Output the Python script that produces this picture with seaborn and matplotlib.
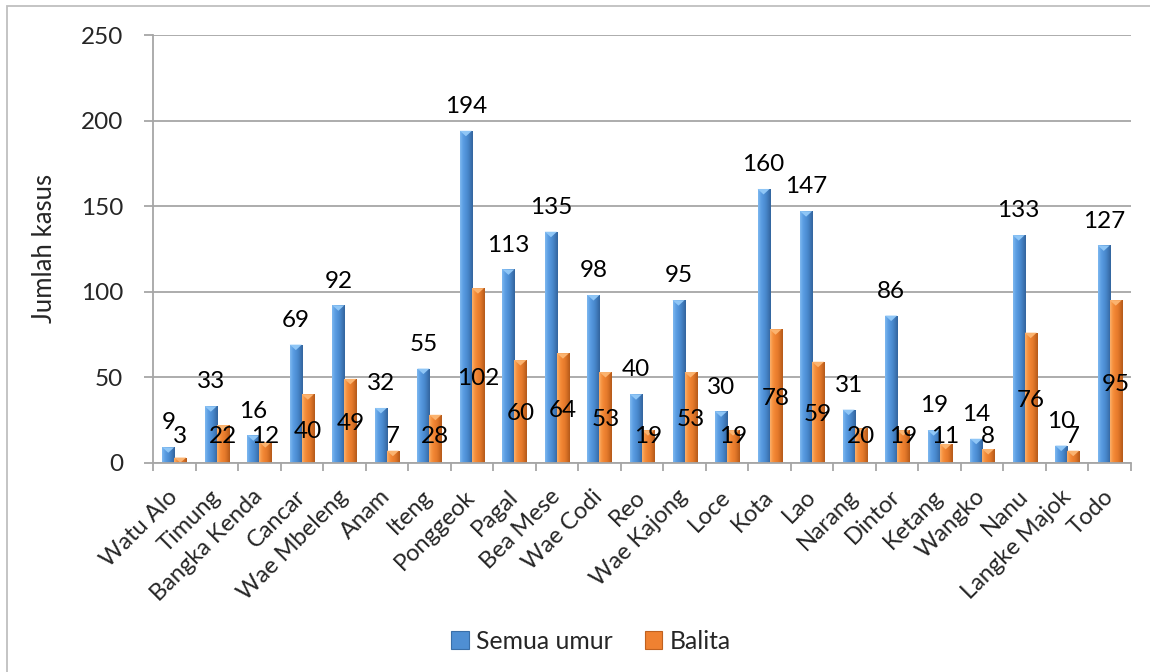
import numpy as np
import pandas as pd
import matplotlib
matplotlib.use("Agg")
import matplotlib.pyplot as plt
import seaborn as sns
from matplotlib.patches import Polygon, Rectangle, Patch
from matplotlib.colors import LinearSegmentedColormap

# Cases per village, all ages vs. under-fives
villages = ["Watu Alo", "Timung", "Bangka Kenda", "Cancar", "Wae Mbeleng", "Anam",
            "Iteng", "Ponggeok", "Pagal", "Bea Mese", "Wae Codi", "Reo",
            "Wae Kajong", "Loce", "Kota", "Lao", "Narang", "Dintor", "Ketang",
            "Wangko", "Nanu", "Langke Majok", "Todo"]
semua_umur = [9, 33, 16, 69, 92, 32, 55, 194, 113, 135, 98, 40, 95, 30, 160, 147,
              31, 86, 19, 14, 133, 10, 127]
balita = [3, 22, 12, 40, 49, 7, 28, 102, 60, 64, 53, 19, 53, 19, 78, 59, 20, 19,
          11, 8, 76, 7, 95]
series_names = ["Semua umur", "Balita"]
y_ticks = [0, 50, 100, 150, 200, 250]
y_label = "Jumlah kasus"

df = pd.DataFrame({
    "Desa": villages * 2,
    "Seri": [series_names[0]] * len(villages) + [series_names[1]] * len(villages),
    "Kasus": semua_umur + balita,
})

sns.set_theme(style="white")
plt.rcParams["font.family"] = ["Lato", "DejaVu Sans"]

W, H = 1150, 672
fig = plt.figure(figsize=(W / 100, H / 100), dpi=100)
fig.patch.set_facecolor("white")
ax = fig.add_axes([153 / W, 1 - 462.7 / H, (1131 - 153) / W, (462.7 - 35) / H])

main_colors = {"Semua umur": "#4f8fd3", "Balita": "#ef8131"}
sns.barplot(data=df, x="Desa", y="Kasus", hue="Seri", order=villages,
            hue_order=series_names, palette=main_colors, width=0.565, gap=0,
            saturation=1, errorbar=None, legend=False, ax=ax, linewidth=0)

# bevelled look: horizontal shading plus a light wedge at the top of each bar
shade = [
    LinearSegmentedColormap.from_list("blue_bevel",
        ["#80b9f0", "#5fa1e5", "#5294da", "#4989cd", "#3e77b6", "#32639c"]),
    LinearSegmentedColormap.from_list("orange_bevel",
        ["#fbb06e", "#f6933f", "#f08332", "#e67b2c", "#d06b22", "#b3591a"]),
]
cap_colors = ["#8fc6f6", "#fbb36f"]
grad = np.linspace(0, 1, 64).reshape(1, -1)
for k, cont in enumerate(ax.containers):
    for bar in cont:
        x, w, h = bar.get_x(), bar.get_width(), bar.get_height()
        im = ax.imshow(grad, extent=[x, x + w, 0, h], aspect="auto",
                       cmap=shade[k], interpolation="bicubic",
                       zorder=bar.get_zorder() + 0.1)
        im.set_clip_path(bar)
        d = min(3.2, h)
        ax.add_patch(Polygon([[x, h], [x + w, h], [x + w / 2, h - d]],
                             closed=True, facecolor=cap_colors[k],
                             edgecolor="none", zorder=bar.get_zorder() + 0.2))

ax.set_xlim(-0.5, len(villages) - 0.5)
ax.set_ylim(y_ticks[0], y_ticks[-1])

# value labels
label_size = 17.5
sem_bars, bal_bars = ax.containers[0], ax.containers[1]
for bar, v in zip(sem_bars, semua_umur):
    cx = bar.get_x() + bar.get_width() / 2
    ax.annotate(str(v), xy=(cx, v), xytext=(0, 17.5), textcoords="offset points",
                ha="center", va="center", fontsize=label_size, color="black",
                zorder=5)
for bar, v in zip(bal_bars, balita):
    cx = bar.get_x() + bar.get_width() / 2
    ax.text(cx, max(v / 2 - 1.5, 15.2), str(v), ha="center", va="center",
            fontsize=label_size, color="black", zorder=5)

# axes styling
grid_c = "#a6a6a6"
ax.set_yticks(y_ticks)
ax.yaxis.grid(True, color=grid_c, linewidth=1.3)
ax.xaxis.grid(False)
ax.set_axisbelow(True)
for side in ("top", "right"):
    ax.spines[side].set_visible(False)
for side in ("left", "bottom"):
    ax.spines[side].set_color(grid_c)
    ax.spines[side].set_linewidth(1.3)

ax.set_xticks(np.arange(len(villages)))
ax.set_xticks(np.arange(-0.5, len(villages), 1), minor=True)
ax.set_xticklabels(villages, rotation=45, ha="right", va="center",
                   rotation_mode="anchor", fontsize=17)
ax.tick_params(axis="x", which="major", length=0, pad=22, bottom=True)
ax.tick_params(axis="x", which="minor", length=5.5, width=1.3, color=grid_c,
               direction="out", bottom=True)
ax.tick_params(axis="y", which="major", length=6.5, width=1.3, color=grid_c,
               direction="out", left=True, pad=15, labelsize=17.5)
ax.set_xlabel("")
ax.set_ylabel(y_label, fontsize=18.5)
ax.yaxis.set_label_coords((57 - 153) / 978, 0.5)

handles = [Patch(facecolor=main_colors[n], edgecolor="#3a6fa8" if i == 0 else "#c0611f",
                 linewidth=0.8) for i, n in enumerate(series_names)]
fig.legend(handles, series_names, loc="center", bbox_to_anchor=(0.514, 0.046),
           ncol=2, frameon=False, fontsize=17.8, handlelength=0.7,
           handleheight=0.7, handletextpad=0.3, columnspacing=1.3)

# outer chart frame
fig.patches.append(Rectangle((7 / W, -10 / H), (W + 20) / W, (H + 4) / H,
                             transform=fig.transFigure, fill=False,
                             edgecolor="#bfbfbf", linewidth=1.3))

fig.savefig("out.png", dpi=100)
